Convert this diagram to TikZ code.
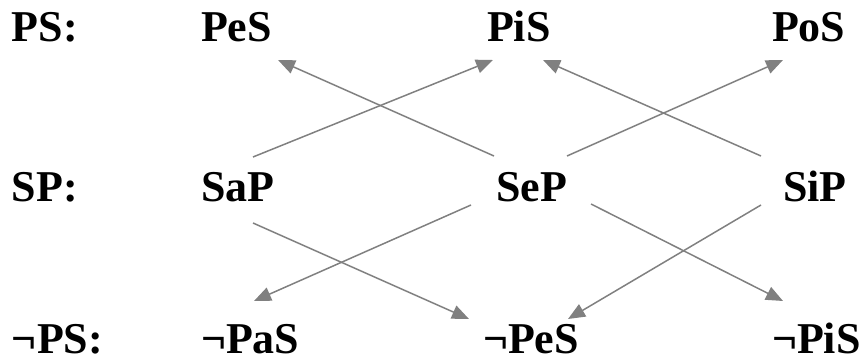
\documentclass[tikz,border=0pt]{standalone}
\usepackage{fontspec}
\setmainfont{Liberation Serif}
\usetikzlibrary{arrows.meta}
\definecolor{arrowgray}{HTML}{808080}
\begin{document}
\begin{tikzpicture}[x=1pt,y=-1pt,
  term/.style={anchor=base west,inner sep=0pt,outer sep=0pt,
    text depth=0pt,font=\fontsize{44}{50}\selectfont\bfseries},
  link/.style={draw=arrowgray,line width=1.5pt,
    -{Triangle[length=17pt,width=14pt]}}]
\useasboundingbox (0,0) rectangle (865,363);
% row labels and propositions
\node[term] (rPS)  at (12,42)  {PS:};
\node[term] (PeS)  at (201,42) {PeS};
\node[term] (PiS)  at (487,42) {PiS};
\node[term] (PoS)  at (772,42) {PoS};
\node[term] (rSP)  at (12,202)  {SP:};
\node[term] (SaP)  at (201,202) {SaP};
\node[term] (SeP)  at (496,202) {SeP};
\node[term] (SiP)  at (783,202) {SiP};
\node[term] (rnPS) at (12,354)  {¬PS:};
\node[term] (nPaS) at (201,354) {¬PaS};
\node[term] (nPeS) at (483,354) {¬PeS};
\node[term] (nPiS) at (772,354) {¬PiS};
% connector ends
\coordinate (SaPup)  at (253,157);
\coordinate (SePupL) at (494,156);
\coordinate (SePupR) at (567,156);
\coordinate (SiPup)  at (761,156);
\coordinate (SaPdn)  at (253,223);
\coordinate (SePdnL) at (471,205);
\coordinate (SePdnR) at (591,204);
\coordinate (SiPdn)  at (761,205);
\coordinate (PeSin)  at (278,60);
\coordinate (PiSinL) at (493,60);
\coordinate (PiSinR) at (543,60);
\coordinate (PoSin)  at (783,60);
\coordinate (nPaSin) at (254,301);
\coordinate (nPeSinL) at (469,319);
\coordinate (nPeSinR) at (568,319);
\coordinate (nPiSin) at (783,301);
% conversions
\draw[link] (SaPup)  -- (PiSinL);
\draw[link] (SePupL) -- (PeSin);
\draw[link] (SePupR) -- (PoSin);
\draw[link] (SiPup)  -- (PiSinR);
\draw[link] (SaPdn)  -- (nPeSinL);
\draw[link] (SePdnL) -- (nPaSin);
\draw[link] (SePdnR) -- (nPiSin);
\draw[link] (SiPdn)  -- (nPeSinR);
\end{tikzpicture}
\end{document}
